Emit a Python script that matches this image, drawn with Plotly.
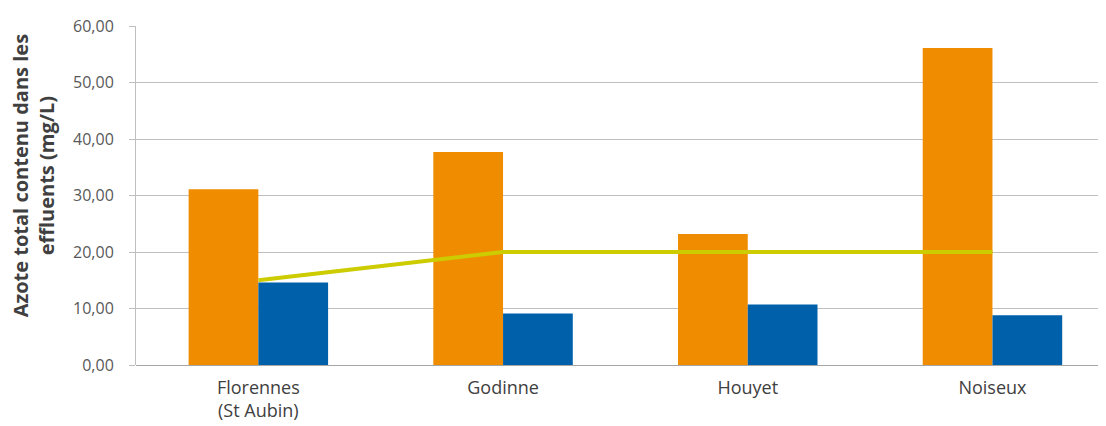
import plotly.graph_objects as go

categories = ["Florennes<br>(St Aubin)", "Godinne", "Houyet", "Noiseux"]
orange_vals = [31.1, 37.7, 23.2, 56.1]
blue_vals = [14.6, 9.1, 10.7, 8.8]
line_vals = [15.0, 20.0, 20.0, 20.0]
y_title = "<b>Azote total contenu dans les<br>effluents (mg/L)</b>"

x_idx = list(range(len(categories)))

fig = go.Figure()
fig.add_trace(go.Bar(x=x_idx, y=orange_vals, marker=dict(color="#F08C00", line=dict(width=0)), showlegend=False))
fig.add_trace(go.Bar(x=x_idx, y=blue_vals, marker=dict(color="#0061AA", line=dict(width=0)), showlegend=False))
fig.add_trace(go.Scatter(x=x_idx, y=line_vals, mode="lines", line=dict(color="#CCCC00", width=4), showlegend=False))

fig.update_layout(
    width=1106, height=426,
    margin=dict(l=128, r=8, t=18, b=69),
    plot_bgcolor="white", paper_bgcolor="white",
    barmode="group", bargap=0.43, bargroupgap=0,
    separators=", ",
    font=dict(family="Open Sans", color="#595959"),
    xaxis=dict(
        tickmode="array", tickvals=x_idx, ticktext=categories,
        range=[-0.5, 3.464], showgrid=False, zeroline=False,
        showline=False, ticks="", automargin=False,
        ticklabelstandoff=10,
        tickfont=dict(size=18, color="#404040"),
    ),
    yaxis=dict(
        range=[0, 60], dtick=10, tickformat=".2f",
        showgrid=True, gridcolor="#BFBFBF", gridwidth=1,
        zeroline=True, zerolinecolor="#A6A6A6", zerolinewidth=1,
        showline=True, linecolor="#BFBFBF", linewidth=1,
        ticks="outside", ticklen=6, tickcolor="#BFBFBF",
        ticklabelstandoff=12,
        tickfont=dict(size=16, color="#595959"), automargin=False,
    ),
    annotations=[dict(
        text=y_title, textangle=-90, xref="paper", yref="paper",
        x=-0.106, y=0.557, xanchor="center", yanchor="middle", showarrow=False,
        font=dict(size=20, color="#404040"), align="center",
    )],
)

fig.write_html("out.html")
